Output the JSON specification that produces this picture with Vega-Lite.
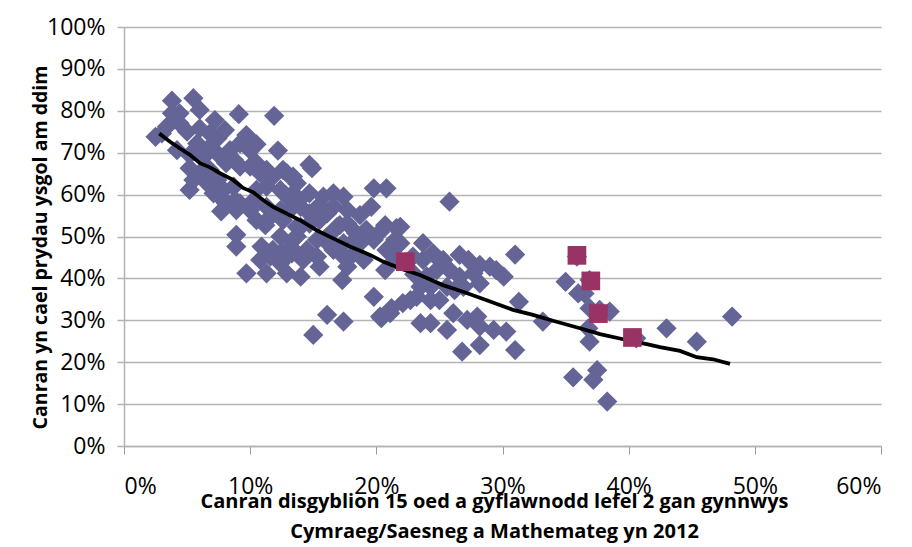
{
  "$schema": "https://vega.github.io/schema/vega-lite/v6.json",
  "width": 757,
  "height": 419,
  "autosize": {"type": "none"},
  "padding": {"left": 124, "top": 27, "right": 31, "bottom": 101},
  "background": "white",
  "config": {"view": {"stroke": null}, "font": "Open Sans"},
  "datasets": {
    "schools": [
      {"x":3.8,"y":82.4},{"x":5.5,"y":83.0},{"x":9.1,"y":79.2},{"x":11.9,"y":78.8},{"x":12.2,"y":70.5},
      {"x":8.9,"y":50.4},{"x":8.9,"y":47.6},{"x":10.9,"y":47.6},{"x":3.8,"y":79.4},{"x":4.4,"y":79.4},
      {"x":3.0,"y":74.6},{"x":2.5,"y":73.8},{"x":3.4,"y":76.2},{"x":4.4,"y":77.0},{"x":5.0,"y":75.0},
      {"x":6.0,"y":75.8},{"x":6.8,"y":74.6},{"x":7.4,"y":73.4},{"x":5.8,"y":72.2},{"x":6.8,"y":71.4},
      {"x":4.2,"y":70.6},{"x":5.2,"y":69.5},{"x":6.3,"y":69.0},{"x":7.4,"y":69.8},{"x":8.4,"y":70.6},
      {"x":9.2,"y":72.2},{"x":9.7,"y":74.2},{"x":8.7,"y":68.3},{"x":9.2,"y":66.7},{"x":8.1,"y":67.5},
      {"x":5.2,"y":66.3},{"x":6.0,"y":65.1},{"x":6.8,"y":65.9},{"x":5.5,"y":63.5},{"x":6.6,"y":62.7},
      {"x":7.4,"y":63.5},{"x":7.9,"y":61.1},{"x":7.1,"y":60.3},{"x":8.7,"y":61.9},{"x":8.1,"y":57.9},
      {"x":8.9,"y":56.3},{"x":7.6,"y":59.5},{"x":7.7,"y":56.0},{"x":10.5,"y":67.5},{"x":10.8,"y":65.1},
      {"x":11.8,"y":64.3},{"x":12.6,"y":65.9},{"x":13.4,"y":64.3},{"x":11.3,"y":61.9},{"x":12.4,"y":61.1},
      {"x":13.4,"y":60.3},{"x":10.3,"y":58.7},{"x":11.3,"y":57.1},{"x":12.4,"y":56.3},{"x":13.4,"y":57.1},
      {"x":10.5,"y":53.9},{"x":11.6,"y":54.7},{"x":12.6,"y":53.9},{"x":13.7,"y":52.3},{"x":12.4,"y":50.0},
      {"x":13.4,"y":49.2},{"x":12.4,"y":46.0},{"x":13.3,"y":46.0},
      {"x":14.7,"y":67.1},{"x":14.9,"y":66.3},{"x":19.8,"y":61.5},{"x":20.8,"y":61.5},{"x":19.6,"y":57.1},
      {"x":21.6,"y":52.0},{"x":9.7,"y":41.2},{"x":11.3,"y":41.2},{"x":12.9,"y":41.2},{"x":14.0,"y":40.4},
      {"x":15.5,"y":42.8},{"x":17.3,"y":39.6},{"x":19.8,"y":35.6},{"x":16.1,"y":31.3},{"x":17.4,"y":29.7},
      {"x":15.0,"y":26.5},{"x":20.4,"y":30.5},{"x":21.2,"y":32.9},{"x":20.7,"y":42.0},{"x":10.0,"y":66.7},
      {"x":11.3,"y":65.9},{"x":12.9,"y":65.1},{"x":13.7,"y":62.7},{"x":14.7,"y":60.3},{"x":15.8,"y":59.5},
      {"x":16.6,"y":60.3},{"x":17.4,"y":59.5},{"x":16.6,"y":57.1},{"x":17.7,"y":56.3},{"x":16.1,"y":55.5},
      {"x":14.7,"y":55.5},{"x":14.0,"y":57.1},{"x":14.0,"y":52.3},{"x":14.7,"y":53.1},{"x":15.5,"y":53.9},
      {"x":13.7,"y":50.0},{"x":12.9,"y":46.8},{"x":11.8,"y":46.8},{"x":10.8,"y":44.4},{"x":11.6,"y":45.2},
      {"x":12.6,"y":44.4},{"x":13.7,"y":46.0},{"x":14.5,"y":46.8},{"x":15.3,"y":49.2},{"x":16.1,"y":50.0},
      {"x":16.9,"y":52.3},{"x":17.7,"y":53.1},{"x":18.4,"y":50.8},{"x":19.2,"y":51.6},{"x":19.8,"y":49.2},
      {"x":18.7,"y":48.4},{"x":17.4,"y":48.4},{"x":16.6,"y":46.8},{"x":17.4,"y":45.2},{"x":18.2,"y":46.0},
      {"x":19.0,"y":44.4},{"x":17.7,"y":42.8},{"x":12.4,"y":43.6},{"x":14.2,"y":44.4},{"x":15.3,"y":45.2},
      {"x":20.8,"y":46.8},{"x":21.6,"y":47.6},{"x":10.5,"y":61.1},{"x":9.2,"y":57.9},
      {"x":25.8,"y":58.3},{"x":21.9,"y":52.3},{"x":20.3,"y":51.1},{"x":23.7,"y":48.4},{"x":21.9,"y":48.4},
      {"x":27.3,"y":44.4},{"x":31.0,"y":45.7},{"x":35.0,"y":39.2},{"x":36.0,"y":36.4},{"x":24.5,"y":46.0},
      {"x":25.3,"y":44.4},{"x":24.8,"y":42.0},{"x":23.7,"y":44.4},{"x":22.9,"y":45.2},{"x":25.8,"y":42.0},
      {"x":26.6,"y":40.4},{"x":27.7,"y":41.2},{"x":29.0,"y":42.8},{"x":30.1,"y":40.4},{"x":29.5,"y":42.0},
      {"x":28.2,"y":38.8},{"x":26.9,"y":38.0},{"x":25.6,"y":38.0},{"x":24.3,"y":38.0},{"x":23.5,"y":38.0},
      {"x":23.2,"y":35.6},{"x":24.3,"y":34.8},{"x":22.1,"y":34.1},{"x":21.1,"y":31.7},{"x":20.3,"y":30.9},
      {"x":23.5,"y":29.3},{"x":24.3,"y":29.3},{"x":25.6,"y":27.7},{"x":26.1,"y":31.7},{"x":27.2,"y":30.1},
      {"x":28.0,"y":30.9},{"x":28.2,"y":28.5},{"x":29.3,"y":27.7},{"x":30.3,"y":27.3},{"x":28.2,"y":24.1},
      {"x":26.8,"y":22.5},{"x":31.0,"y":22.9},{"x":31.3,"y":34.4},{"x":33.2,"y":29.7},{"x":35.6,"y":16.4},
      {"x":23.0,"y":41.0},{"x":24.0,"y":40.5},{"x":21.5,"y":44.5},
      {"x":36.5,"y":36.4},{"x":36.9,"y":32.9},{"x":38.5,"y":32.1},{"x":36.8,"y":28.1},{"x":36.9,"y":24.9},
      {"x":40.6,"y":25.7},{"x":43.0,"y":28.1},{"x":45.4,"y":24.9},{"x":48.2,"y":30.9},{"x":37.5,"y":18.1},
      {"x":37.2,"y":15.8},{"x":38.3,"y":10.6},{"x":35.9,"y":45.2},{"x":36.9,"y":39.6},{"x":37.7,"y":32.5},
      {"x":13.9,"y":58.7},{"x":15.5,"y":57.5},{"x":17.1,"y":52.7},{"x":15.9,"y":49.2},{"x":18.7,"y":55.1},
      {"x":18.3,"y":49.2},{"x":11.2,"y":52.7},{"x":10.0,"y":56.3},{"x":8.8,"y":58.7},{"x":12.8,"y":59.9},
      {"x":20.7,"y":52.7},{"x":21.5,"y":49.2},{"x":7.2,"y":77.8},{"x":6.0,"y":80.2},{"x":8.0,"y":75.4},
      {"x":5.2,"y":61.1},{"x":10.0,"y":70.6},{"x":10.5,"y":72.0},{"x":25.0,"y":44.4},{"x":26.6,"y":45.6},
      {"x":28.2,"y":43.2},{"x":22.7,"y":34.8},{"x":25.0,"y":34.8},{"x":26.2,"y":37.2}
    ],
    "highlight": [
      {"x":22.3,"y":44.0},{"x":35.9,"y":45.5},{"x":37.0,"y":39.4},{"x":37.6,"y":31.6},{"x":40.3,"y":25.9}
    ],
    "trend": [
      {"x":2.8,"y":74.6},{"x":3.65,"y":72.6},{"x":4.44,"y":71.0},{"x":5.23,"y":69.5},{"x":6.02,"y":67.5},
      {"x":6.82,"y":66.5},{"x":7.61,"y":65.1},{"x":8.64,"y":63.5},{"x":9.43,"y":61.6},{"x":10.22,"y":60.6},
      {"x":11.02,"y":58.7},{"x":11.81,"y":57.1},{"x":12.6,"y":55.9},{"x":13.39,"y":54.7},{"x":13.95,"y":53.9},
      {"x":15.27,"y":51.5},{"x":16.33,"y":49.9},{"x":17.91,"y":47.6},{"x":19.5,"y":45.6},{"x":20.53,"y":44.0},
      {"x":21.88,"y":42.4},{"x":23.46,"y":40.8},{"x":25.28,"y":38.4},{"x":26.87,"y":36.8},{"x":28.75,"y":34.8},
      {"x":30.83,"y":32.5},{"x":32.42,"y":31.3},{"x":34.0,"y":29.9},{"x":36.14,"y":28.1},{"x":37.73,"y":26.7},
      {"x":39.84,"y":25.3},{"x":41.43,"y":24.3},{"x":42.48,"y":23.6},{"x":44.07,"y":22.7},{"x":45.39,"y":21.2},
      {"x":46.68,"y":20.7},{"x":48.03,"y":19.6}
    ]
  },
  "encoding": {
    "x": {
      "field": "x", "type": "quantitative",
      "scale": {"domain": [0, 60], "nice": false, "zero": true},
      "axis": {
        "values": [0, 10, 20, 30, 40, 50, 60],
        "labelExpr": "datum.value + '%'",
        "grid": false,
        "domainColor": "#b3b3b3", "domainWidth": 1.5,
        "tickColor": "#999999", "tickSize": 8,
        "labelPadding": 21, "labelFontSize": 23, "labelFont": "Open Sans", "labelColor": "black",
        "title": ["Canran disgyblion 15 oed a gyflawnodd lefel 2 gan gynnwys", "Cymraeg/Saesneg a Mathemateg yn 2012"],
        "titleFont": "Open Sans", "titleFontSize": 20, "titleFontWeight": "bold", "titleColor": "black",
        "titleX": 370, "titleY": 61, "titleBaseline": "alphabetic", "titleAlign": "center", "titleLineHeight": 30
      }
    },
    "y": {
      "field": "y", "type": "quantitative",
      "scale": {"domain": [0, 100], "nice": false},
      "axis": {
        "values": [0, 10, 20, 30, 40, 50, 60, 70, 80, 90, 100],
        "labelExpr": "datum.value + '%'",
        "grid": true, "gridColor": "#b3b3b3", "gridWidth": 1.5,
        "domainColor": "#b3b3b3", "domainWidth": 1.5,
        "tickColor": "#b3b3b3", "tickSize": 7, "tickWidth": 1.5,
        "labelPadding": 12, "labelFontSize": 23, "labelFont": "Open Sans", "labelColor": "black",
        "title": "Canran yn cael prydau ysgol am ddim",
        "titleFont": "Open Sans", "titleFontSize": 19.5, "titleFontWeight": "bold", "titleColor": "black",
        "titleAngle": -90, "titleX": -84, "titleY": 220, "titleBaseline": "middle", "titleAlign": "center"
      }
    }
  },
  "layer": [
    {"data": {"name": "schools"}, "mark": {"type": "point", "shape": "diamond", "filled": true, "size": 410, "color": "#646496", "opacity": 1}},
    {"data": {"name": "trend"}, "mark": {"type": "line", "color": "black", "strokeWidth": 3.8}},
    {"data": {"name": "highlight"}, "mark": {"type": "square", "size": 350, "color": "#993366", "opacity": 1}}
  ]
}
